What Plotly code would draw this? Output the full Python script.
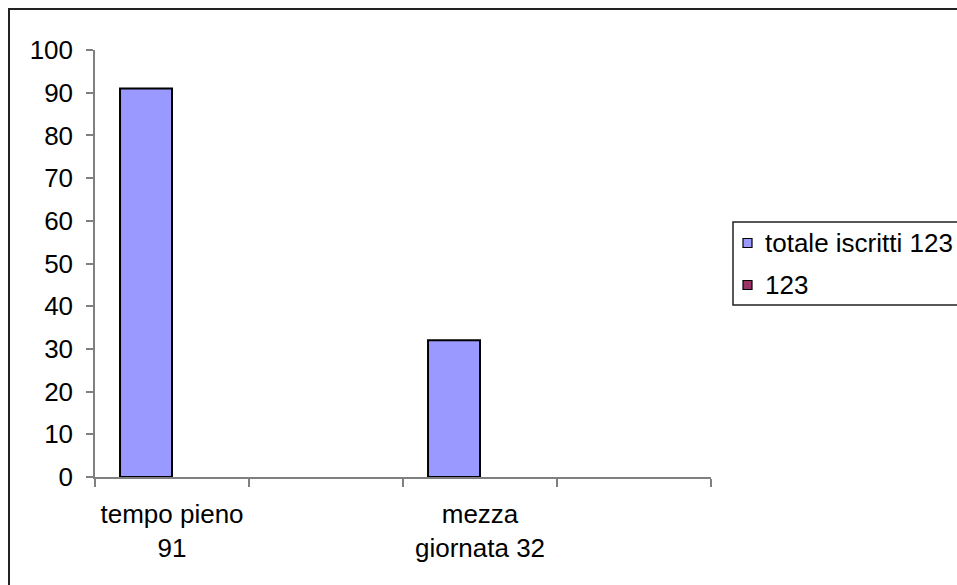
import plotly.graph_objects as go

# Data
categories = ["tempo pieno<br>91", " ", "mezza<br>giornata 32", "  "]
series_names = ["totale iscritti 123", "123"]
totale_iscritti = [91, None, 32, None]
serie_123 = [None, None, None, None]
series_values = [totale_iscritti, serie_123]
series_colors = ["#9999FF", "#993366"]
y_ticks = list(range(0, 101, 10))

W, H = 957, 585
L, R, T, B = 95, 246, 50, 108
PW, PH = W - L - R, H - T - B


def px_x(px):
    return (px - L) / PW


def px_y(py):
    return (H - B - py) / PH


FONT = "Liberation Sans, Arial, Helvetica, sans-serif"
FS = 26

fig = go.Figure()
for name, vals, col in zip(series_names, series_values, series_colors):
    fig.add_trace(go.Bar(
        x=categories, y=vals, name=name,
        marker=dict(color=col, line=dict(color="black", width=2)),
        showlegend=False,
    ))

# Outer chart border (top and left edges visible)
fig.add_shape(type="rect", xref="paper", yref="paper",
              x0=px_x(9), x1=px_x(1000), y0=px_y(620), y1=px_y(9),
              line=dict(color="#222222", width=2), fillcolor="rgba(0,0,0,0)")

# Legend box
fig.add_shape(type="rect", xref="paper", yref="paper",
              x0=px_x(733), x1=px_x(1000), y0=px_y(305), y1=px_y(222),
              line=dict(color="#222222", width=1.5), fillcolor="white")
legend_y = [243, 285]
for name, col, yc in zip(series_names, series_colors, legend_y):
    fig.add_shape(type="rect", xref="paper", yref="paper",
                  x0=px_x(743), x1=px_x(752), y0=px_y(yc + 4.5), y1=px_y(yc - 4.5),
                  line=dict(color="black", width=1.2), fillcolor=col)
    fig.add_annotation(text=name, xref="paper", yref="paper",
                       x=px_x(763), y=px_y(yc), xanchor="left", yanchor="middle",
                       showarrow=False, font=dict(size=FS, color="black", family=FONT))

fig.update_layout(
    width=W, height=H,
    margin=dict(l=L, r=R, t=T, b=B, autoexpand=False),
    paper_bgcolor="white", plot_bgcolor="white",
    barmode="group", bargap=0.325, bargroupgap=0,
    font=dict(family=FONT, size=FS, color="black"),
    showlegend=False,
)
fig.update_xaxes(
    type="category", categoryorder="array", categoryarray=categories,
    showline=True, linecolor="#808080", linewidth=1.5,
    ticks="outside", tickson="boundaries", ticklen=8, tickcolor="#808080", tickwidth=1.5,
    ticklabelstandoff=13,
    showgrid=False, zeroline=False,
    tickfont=dict(size=FS, color="black", family=FONT),
)
fig.update_yaxes(
    range=[0, 100], tickvals=y_ticks,
    showline=True, linecolor="#808080", linewidth=1.5,
    ticks="outside", ticklen=7, tickcolor="#808080", tickwidth=1.5,
    ticklabelstandoff=8,
    showgrid=False, zeroline=False,
    tickfont=dict(size=FS, color="black", family=FONT),
)

fig.write_html("out.html")
